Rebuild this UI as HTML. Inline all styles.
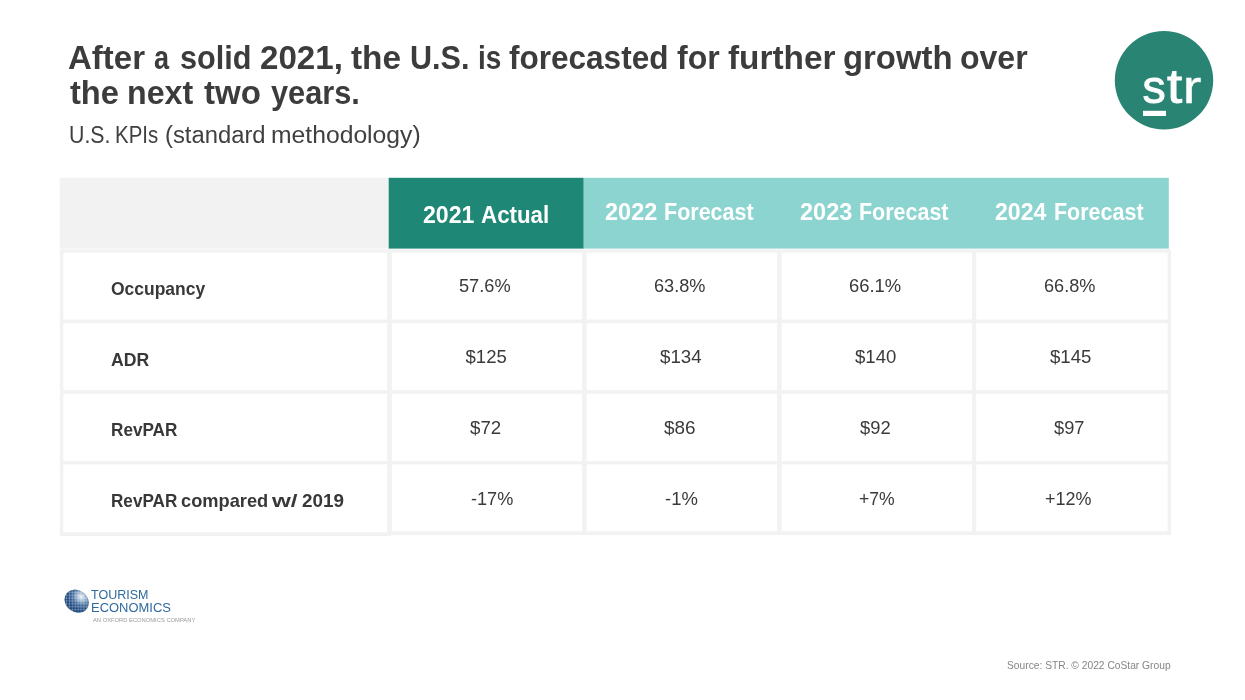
<!DOCTYPE html>
<html lang="en">
<head>
<meta charset="utf-8">
<title>U.S. KPIs</title>
<style>
html,body{margin:0;padding:0;background:#fff;}
body{width:1245px;height:700px;position:relative;overflow:hidden;font-family:"Liberation Sans",sans-serif;color:#3d3d3d;}
.t{position:absolute;white-space:nowrap;line-height:1;transform-origin:0 0;}
.box{position:absolute;}
h1,p,header,footer{margin:0;padding:0;font:inherit;}
.ti{font-weight:bold;color:#3c3c3c;}
.su{color:#404040;}
.hd{font-weight:bold;color:#fff;}
.lb{font-weight:bold;color:#383838;}
.dv{color:#3a3a3a;}
.src{color:#858585;}
.te{color:#2f6a9d;}
.ox{color:#999;}
</style>
</head>
<body>
<svg class="box" style="left:0;top:0" width="1245" height="700" viewBox="0 0 1245 700">
<rect x="59.9" y="249.35" width="331.1" height="286.75" fill="#f2f2f2"/>
<rect x="389" y="249.35" width="782.1" height="285.75" fill="#f2f2f2"/>
<rect x="59.7" y="177.8" width="330" height="70.8" fill="#f2f2f2"/>
<rect x="583.6" y="177.8" width="585.2" height="70.8" fill="#8cd4d0"/>
<rect x="388.7" y="177.8" width="194.9" height="70.8" fill="#1e8775"/>
<rect x="63.3" y="252.7" width="323.9" height="66.8" fill="#fff"/>
<rect x="63.3" y="323.2" width="323.9" height="66.9" fill="#fff"/>
<rect x="63.3" y="393.8" width="323.9" height="67.4" fill="#fff"/>
<rect x="63.3" y="464.4" width="323.9" height="67.9" fill="#fff"/>
<rect x="391.8" y="252.7" width="190.3" height="66.8" fill="#fff"/>
<rect x="391.8" y="323.2" width="190.3" height="66.9" fill="#fff"/>
<rect x="391.8" y="393.8" width="190.3" height="67.4" fill="#fff"/>
<rect x="391.8" y="464.4" width="190.3" height="66.9" fill="#fff"/>
<rect x="586.7" y="252.7" width="190.4" height="66.8" fill="#fff"/>
<rect x="586.7" y="323.2" width="190.4" height="66.9" fill="#fff"/>
<rect x="586.7" y="393.8" width="190.4" height="67.4" fill="#fff"/>
<rect x="586.7" y="464.4" width="190.4" height="66.9" fill="#fff"/>
<rect x="781.6" y="252.7" width="190.4" height="66.8" fill="#fff"/>
<rect x="781.6" y="323.2" width="190.4" height="66.9" fill="#fff"/>
<rect x="781.6" y="393.8" width="190.4" height="67.4" fill="#fff"/>
<rect x="781.6" y="464.4" width="190.4" height="66.9" fill="#fff"/>
<rect x="976.2" y="252.7" width="191.4" height="66.8" fill="#fff"/>
<rect x="976.2" y="323.2" width="191.4" height="66.9" fill="#fff"/>
<rect x="976.2" y="393.8" width="191.4" height="67.4" fill="#fff"/>
<rect x="976.2" y="464.4" width="191.4" height="66.9" fill="#fff"/>
</svg>
<svg class="box" style="left:1100px;top:20px" width="130" height="125" viewBox="1100 20 130 125">
<circle cx="1164" cy="80.3" r="49.2" fill="#2a8473"/>
<text id="str" y="103.3" font-family="Liberation Sans, sans-serif" font-size="46.5" fill="#fff" stroke="#fff" stroke-width="0.9"><tspan x="1142.6">s</tspan><tspan x="1167" font-size="48.5" textLength="15.2" lengthAdjust="spacingAndGlyphs">t</tspan><tspan x="1182.8" stroke-width="0.4" textLength="18.6" lengthAdjust="spacingAndGlyphs">r</tspan></text>
<rect x="1143" y="110.8" width="23" height="5.2" fill="#fff"/>
</svg>
<header>
<h1><span class="t ti" id="t1w0" style="left:68.27px;top:41.47px;font-size:33.7px;transform:scaleX(0.9791);">After</span> <span class="t ti" id="t1w1" style="left:153.93px;top:41.47px;font-size:33.7px;transform:scaleX(0.8039);">a</span> <span class="t ti" id="t1w2" style="left:179.88px;top:41.47px;font-size:33.7px;transform:scaleX(0.9088);">solid</span> <span class="t ti" id="t1w3" style="left:259.61px;top:41.47px;font-size:33.7px;transform:scaleX(0.9838);">2021,</span> <span class="t ti" id="t1w4" style="left:351.10px;top:41.47px;font-size:33.7px;transform:scaleX(0.9905);">the</span> <span class="t ti" id="t1w5" style="left:409.67px;top:41.47px;font-size:33.7px;transform:scaleX(0.9076);">U.S.</span> <span class="t ti" id="t1w6" style="left:477.65px;top:41.47px;font-size:33.7px;transform:scaleX(0.8292);">is</span> <span class="t ti" id="t1w7" style="left:509.36px;top:41.47px;font-size:33.7px;transform:scaleX(0.9357);">forecasted</span> <span class="t ti" id="t1w8" style="left:677.06px;top:41.47px;font-size:33.7px;transform:scaleX(0.9508);">for</span> <span class="t ti" id="t1w9" style="left:728.04px;top:41.47px;font-size:33.7px;transform:scaleX(0.9907);">further</span> <span class="t ti" id="t1w10" style="left:843.03px;top:41.47px;font-size:33.7px;transform:scaleX(0.9750);">growth</span> <span class="t ti" id="t1w11" style="left:959.97px;top:41.47px;font-size:33.7px;transform:scaleX(0.9502);">over</span> <span class="t ti" id="t2w0" style="left:69.50px;top:76.47px;font-size:33.7px;transform:scaleX(0.9690);">the</span> <span class="t ti" id="t2w1" style="left:126.95px;top:76.47px;font-size:33.7px;transform:scaleX(0.9552);">next</span> <span class="t ti" id="t2w2" style="left:204.20px;top:76.47px;font-size:33.7px;transform:scaleX(0.9819);">two</span> <span class="t ti" id="t2w3" style="left:270.61px;top:76.47px;font-size:33.7px;transform:scaleX(0.9123);">years.</span></h1>
<p class="subtitle"><span class="t su" id="sbw0" style="left:69.17px;top:123.53px;font-size:23.0px;transform:scaleX(0.9263);">U.S.</span> <span class="t su" id="sbw1" style="left:114.96px;top:123.53px;font-size:23.0px;transform:scaleX(0.8883);">KPIs</span> <span class="t su" id="sbw2" style="left:164.97px;top:123.53px;font-size:23.0px;transform:scaleX(1.0348);">(standard</span> <span class="t su" id="sbw3" style="left:271.38px;top:123.53px;font-size:23.0px;transform:scaleX(1.0738);">methodology)</span></p>
</header>
<div class="tbl" role="table">
<div role="row"><div role="columnheader"></div>
<div role="columnheader"><span class="t hd" id="hd0a" style="left:423.01px;top:203.53px;font-size:23.0px;transform:scaleX(1.0063);">2021</span> <span class="t hd" id="hd0b" style="left:481.41px;top:203.53px;font-size:23.0px;transform:scaleX(0.9709);">Actual</span></div>
<div role="columnheader"><span class="t hd" id="hd1a" style="left:604.97px;top:200.53px;font-size:23.0px;transform:scaleX(1.0223);">2022</span> <span class="t hd" id="hd1b" style="left:664.11px;top:200.53px;font-size:23.0px;transform:scaleX(0.9350);">Forecast</span></div>
<div role="columnheader"><span class="t hd" id="hd2a" style="left:800.01px;top:200.53px;font-size:23.0px;transform:scaleX(1.0216);">2023</span> <span class="t hd" id="hd2b" style="left:859.15px;top:200.53px;font-size:23.0px;transform:scaleX(0.9336);">Forecast</span></div>
<div role="columnheader"><span class="t hd" id="hd3a" style="left:995.00px;top:200.53px;font-size:23.0px;transform:scaleX(1.0053);">2024</span> <span class="t hd" id="hd3b" style="left:1053.76px;top:200.53px;font-size:23.0px;transform:scaleX(0.9340);">Forecast</span></div>
</div>
<div role="row"><div role="rowheader"><span class="t lb" id="lb0" style="left:110.94px;top:278.92px;font-size:19px;transform:scaleX(0.9186);">Occupancy</span></div>
<div role="cell"><span class="t dv" id="d00" style="left:458.72px;top:277.30px;font-size:18.55px;transform:scaleX(0.9824);">57.6%</span></div>
<div role="cell"><span class="t dv" id="d01" style="left:653.69px;top:277.30px;font-size:18.55px;transform:scaleX(0.9792);">63.8%</span></div>
<div role="cell"><span class="t dv" id="d02" style="left:848.64px;top:277.30px;font-size:18.55px;transform:scaleX(0.9945);">66.1%</span></div>
<div role="cell"><span class="t dv" id="d03" style="left:1043.69px;top:277.30px;font-size:18.55px;transform:scaleX(0.9792);">66.8%</span></div>
</div>
<div role="row"><div role="rowheader"><span class="t lb" id="lb1" style="left:111.12px;top:349.92px;font-size:19px;transform:scaleX(0.9281);">ADR</span></div>
<div role="cell"><span class="t dv" id="d10" style="left:465.57px;top:348.30px;font-size:18.55px;">$125</span></div>
<div role="cell"><span class="t dv" id="d11" style="left:660.48px;top:348.30px;font-size:18.55px;transform:scaleX(1.0108);">$134</span></div>
<div role="cell"><span class="t dv" id="d12" style="left:855.07px;top:348.30px;font-size:18.55px;transform:scaleX(1.0029);">$140</span></div>
<div role="cell"><span class="t dv" id="d13" style="left:1050.09px;top:348.30px;font-size:18.55px;transform:scaleX(1.0052);">$145</span></div>
</div>
<div role="row"><div role="rowheader"><span class="t lb" id="lb2" style="left:111.40px;top:419.92px;font-size:19px;transform:scaleX(0.9023);">RevPAR</span></div>
<div role="cell"><span class="t dv" id="d20" style="left:469.60px;top:419.30px;font-size:18.55px;transform:scaleX(1.0098);">$72</span></div>
<div role="cell"><span class="t dv" id="d21" style="left:664.08px;top:419.30px;font-size:18.55px;transform:scaleX(1.0207);">$86</span></div>
<div role="cell"><span class="t dv" id="d22" style="left:859.80px;top:419.30px;font-size:18.55px;transform:scaleX(0.9901);">$92</span></div>
<div role="cell"><span class="t dv" id="d23" style="left:1054.40px;top:419.30px;font-size:18.55px;transform:scaleX(0.9859);">$97</span></div>
</div>
<div role="row"><div role="rowheader"><span class="t lb" id="lb3a" style="left:111.10px;top:490.92px;font-size:19px;transform:scaleX(0.9012);">RevPAR</span> <span class="t lb" id="lb3b" style="left:180.88px;top:490.92px;font-size:19px;transform:scaleX(0.9600);">compared</span> <span class="t lb" id="lb3c" style="left:272.28px;top:490.92px;font-size:19px;transform:scaleX(1.2755);">w/</span> <span class="t lb" id="lb3d" style="left:302.09px;top:490.92px;font-size:19px;transform:scaleX(0.9921);">2019</span></div>
<div role="cell"><span class="t dv" id="d30" style="left:470.76px;top:490.30px;font-size:18.55px;transform:scaleX(0.9776);">-17%</span></div>
<div role="cell"><span class="t dv" id="d31" style="left:664.95px;top:490.30px;font-size:18.55px;transform:scaleX(0.9975);">-1%</span></div>
<div role="cell"><span class="t dv" id="d32" style="left:859.31px;top:490.30px;font-size:18.55px;transform:scaleX(0.9494);">+7%</span></div>
<div role="cell"><span class="t dv" id="d33" style="left:1045.32px;top:490.30px;font-size:18.55px;transform:scaleX(0.9696);">+12%</span></div>
</div>
</div>
<footer>
<div class="telogo"><span class="t te" id="te1" style="left:91.12px;top:587.74px;font-size:13.3px;transform:scaleX(0.9400);">TOURISM</span> <span class="t te" id="te2" style="left:91.03px;top:600.74px;font-size:13.3px;transform:scaleX(0.9740);">ECONOMICS</span> <span class="t ox" id="ox" style="left:92.67px;top:618.85px;font-size:4.9px;transform:scaleX(1.1846);">AN OXFORD ECONOMICS COMPANY</span></div>
<div class="source"><span class="t src" id="src" style="left:1007.31px;top:660.03px;font-size:10.6px;transform:scaleX(0.9672);">Source: STR. © 2022 CoStar Group</span></div>
</footer>
<svg class="box" style="left:60px;top:585px" width="34" height="32" viewBox="60 585 34 32">
<defs>
<radialGradient id="gg" cx="0.55" cy="0.22" r="0.6">
<stop offset="0" stop-color="#eef3f8"/>
<stop offset="0.3" stop-color="#9bb5d0"/>
<stop offset="0.6" stop-color="#3f6a9c"/>
<stop offset="1" stop-color="#1a4579"/>
</radialGradient>
<clipPath id="gc"><ellipse cx="76.7" cy="601.1" rx="12.7" ry="10.9" transform="rotate(35 76.7 601.1)"/></clipPath>
</defs>
<ellipse cx="76.7" cy="601.1" rx="12.7" ry="10.9" transform="rotate(35 76.7 601.1)" fill="url(#gg)"/>
<g clip-path="url(#gc)" stroke="#fff" stroke-opacity="0.38" stroke-width="0.7" fill="none">
<path d="M60 592.3h34M60 595.2h34M60 598.1h34M60 601h34M60 603.9h34M60 606.8h34M60 609.7h34"/>
<path d="M66.5 585v32M69.4 585v32M72.3 585v32M75.2 585v32M78.1 585v32M81 585v32M83.9 585v32M86.8 585v32"/>
</g>
</svg>
</body>
</html>
